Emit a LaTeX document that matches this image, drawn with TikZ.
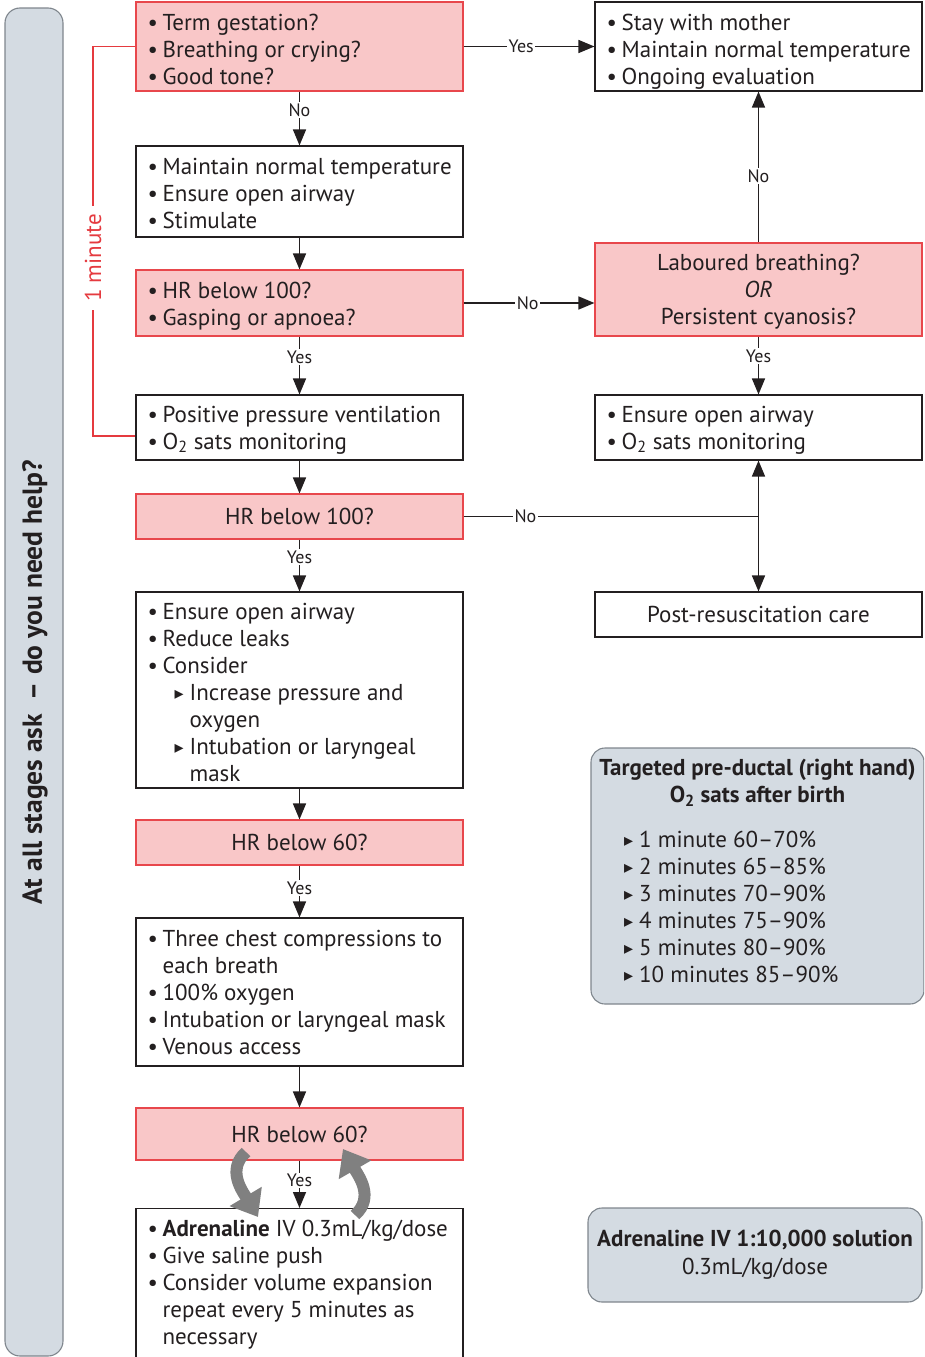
\documentclass[tikz,border=0pt]{standalone}
\usepackage{fontspec}
\setmainfont{PT Sans}
\newfontfamily\djv{DejaVu Sans}
\usetikzlibrary{arrows.meta,calc}
\definecolor{redfill}{HTML}{F9C7C8}
\definecolor{redline}{HTML}{E8474C}
\definecolor{greyfill}{HTML}{D4DBE2}
\definecolor{greyline}{HTML}{7F868D}
\definecolor{txt}{HTML}{231F20}
\definecolor{arrowgrey}{HTML}{808080}
\definecolor{bracketred}{HTML}{E53A3F}
\newcommand{\bodyfont}{\fontsize{23}{27}\selectfont}
\newcommand{\titlefont}{\fontsize{23}{27}\selectfont}
\newcommand{\bul}{\makebox[15pt][l]{\textbullet}}
\newcommand{\tri}{\makebox[15pt][l]{\raisebox{0.5pt}{\djv\fontsize{18}{18}\selectfont ▸}}}
\newcommand{\Ot}{O\textsubscript{2}}
\newcommand{\fs}{\rule{0pt}{23pt}}
\newcommand{\ls}{\rule[-6.6pt]{0pt}{6.6pt}}
\begin{document}
\begin{tikzpicture}[x=1pt,y=-1pt,
  wbox/.style={draw=txt, line width=1.1pt, fill=white, minimum width=327pt, inner sep=0pt},
  rbox/.style={wbox, draw=redline, fill=redfill},
  gbox/.style={draw=greyline, line width=1.1pt, fill=greyfill, rounded corners=14pt, inner sep=0pt},
  tl/.style={anchor=west, align=left, inner sep=0pt, font=\bodyfont, text=txt},
  tc/.style={align=center, inner sep=0pt, font=\bodyfont, text=txt},
  arr/.style={draw=txt, line width=1.5pt, -{Triangle[length=16pt,width=13pt]}},
  ln/.style={draw=txt, line width=1.5pt},
  lab/.style={fill=white, inner sep=1.5pt, font=\fontsize{18}{18}\selectfont, text=txt},
  garr/.style={draw=arrowgrey, line width=12pt, -{Triangle[length=24pt,width=36pt]}}]
\useasboundingbox (0,0) rectangle (924,1357);
\clip (0,0) rectangle (924,1357);

% left bar
\node[gbox, rounded corners=15pt, minimum width=58pt, minimum height=1348pt] (bar) at (34,682) {};
\node[rotate=90, font=\fontsize{27.5}{27.5}\selectfont\bfseries, text=txt, inner sep=0pt] (bart) at (35,682) {At all stages ask~~-- do you need help?};

% left column
\node[rbox, minimum height=89pt] (B1) at (299.5,46.5) {};
\node[tl] (B1t) at ([xshift=12pt,yshift=-3pt]B1.west) {\fs\bul Term gestation?\\\bul Breathing or crying?\\\bul Good tone?\ls};
\node[wbox, minimum height=91pt] (B2) at (299.5,191.5) {};
\node[tl] (B2t) at ([xshift=12pt,yshift=-2pt]B2.west) {\fs\bul Maintain normal temperature\\\bul Ensure open airway\\\bul Stimulate\ls};
\node[rbox, minimum height=66pt] (B3) at (299.5,303) {};
\node[tl] (B3t) at ([xshift=12pt,yshift=-1pt]B3.west) {\fs\bul HR below 100?\\\bul Gasping or apnoea?\ls};
\node[wbox, minimum height=65pt] (B4) at (299.5,427.5) {};
\node[tl] (B4t) at ([xshift=12pt]B4.west) {\fs\bul Positive pressure ventilation\\\bul \Ot{} sats monitoring\ls};
\node[rbox, minimum height=45pt] (B5) at (299.5,516.5) {};
\node[tc] (B5t) at (B5) {\fs HR below 100?\ls};
\node[wbox, minimum height=196pt] (B6) at (299.5,690) {};
\node[tl] (B6t) at ([xshift=12pt,yshift=-2pt]B6.west) {\fs\bul Ensure open airway\\\bul Reduce leaks\\\bul Consider\\
  \hspace*{27pt}\tri Increase pressure and\\\hspace*{42pt}oxygen\\
  \hspace*{27pt}\tri Intubation or laryngeal\\\hspace*{42pt}mask\ls};
\node[rbox, minimum height=45pt] (B7) at (299.5,842.5) {};
\node[tc] (B7t) at (B7) {\fs HR below 60?\ls};
\node[wbox, minimum height=148pt] (B8) at (299.5,992) {};
\node[tl] (B8t) at ([xshift=12pt]B8.west) {\fs\bul Three chest compressions to\\\hspace*{15pt}each breath\\\bul 100\% oxygen\\\bul Intubation or laryngeal mask\\\bul Venous access\ls};
\node[rbox, minimum height=52pt] (B9) at (299.5,1134) {};
\node[tc] (B9t) at (B9) {\fs HR below 60?\ls};
\node[wbox, minimum height=200pt, anchor=north] (B10) at (299.5,1208) {};
\node[tl, anchor=north west] (B10t) at ([xshift=12pt,yshift=-11.5pt]B10.north west) {\bul \textbf{Adrenaline} IV 0.3mL/kg/dose\\\bul Give saline push\\\bul Consider volume expansion\\\hspace*{15pt}repeat every 5 minutes as\\\hspace*{15pt}necessary};

% right column
\node[wbox, minimum height=89pt] (R1) at (758.5,46.5) {};
\node[tl] (R1t) at ([xshift=12pt,yshift=-3pt]R1.west) {\fs\bul Stay with mother\\\bul Maintain normal temperature\\\bul Ongoing evaluation\ls};
\node[rbox, minimum height=93pt] (R2) at (758.5,289.5) {};
\node[tc] (R2t) at (R2) {\fs Laboured breathing?\\\textit{OR}\\Persistent cyanosis?\ls};
\node[wbox, minimum height=65pt] (R3) at (758.5,427.5) {};
\node[tl] (R3t) at ([xshift=12pt]R3.west) {\fs\bul Ensure open airway\\\bul \Ot{} sats monitoring\ls};
\node[wbox, minimum height=45pt] (R4) at (758.5,614.5) {};
\node[tc] (R4t) at (R4) {\fs Post-resuscitation care\ls};

% grey info boxes
\node[gbox, minimum width=333pt, minimum height=256pt] (G1) at (757.5,876) {};
\node[tc, font=\titlefont\bfseries] (G1t) at (757.5,783) {Targeted pre-ductal (right hand)\\\Ot{} sats after birth};
\node[tl, anchor=north west] (G1l) at (624,830.5) {\tri 1 minute 60--70\%\\\tri 2 minutes 65--85\%\\\tri 3 minutes 70--90\%\\\tri 4 minutes 75--90\%\\\tri 5 minutes 80--90\%\\\tri 10 minutes 85--90\%};
\node[gbox, minimum width=334pt, minimum height=94pt] (G2) at (755,1255) {};
\node[tc, font=\fontsize{23}{28}\selectfont] (G2t) at (G2) {\textbf{Adrenaline IV 1:10,000 solution}\\0.3mL/kg/dose};

% connectors
\draw[arr] (B1) -- node[lab, pos=0.44]{Yes} (R1);
\draw[arr] (B1) -- node[lab, pos=0.35]{No} (B2);
\draw[arr] (B2) -- (B3);
\draw[arr] (B3.east) -- node[lab, pos=0.49]{No} (B3.east -| R2.west);
\draw[arr] (B3) -- node[lab, pos=0.36]{Yes} (B4);
\draw[arr] (R2) -- node[lab, pos=0.44]{No} (R1);
\draw[arr] (R2) -- node[lab, pos=0.34]{Yes} (R3);
\draw[arr] (B4) -- (B5);
\coordinate (J) at (758.5,516.5);
\draw[ln] (B5.east) -- node[lab, pos=0.21]{No} (J);
\draw[arr] (J) -- (R3);
\draw[arr] (J) -- (R4);
\draw[arr] (B5) -- node[lab, pos=0.34]{Yes} (B6);
\draw[arr] (B6) -- (B7);
\draw[arr] (B7) -- node[lab, pos=0.43]{Yes} (B8);
\draw[arr] (B8) -- (B9);
\draw[arr] (B9) -- node[lab, pos=0.42]{Yes} (B10);

% grey curved arrows
\draw[garr] (246,1152) .. controls (226,1170) and (243,1192) .. (258,1217);
\draw[garr] (355,1215) .. controls (375,1197) and (358,1175) .. (343,1149);

% red one-minute bracket
\draw[draw=bracketred, line width=1.2pt] (B1.west) -| (93,436) -- ([yshift=-8.5pt]B4.west);
\node[rotate=90, fill=white, text=bracketred, font=\fontsize{23}{23}\selectfont, inner xsep=8pt, inner ysep=2pt] (onemin) at (93,258) {1 minute};
\end{tikzpicture}
\end{document}
